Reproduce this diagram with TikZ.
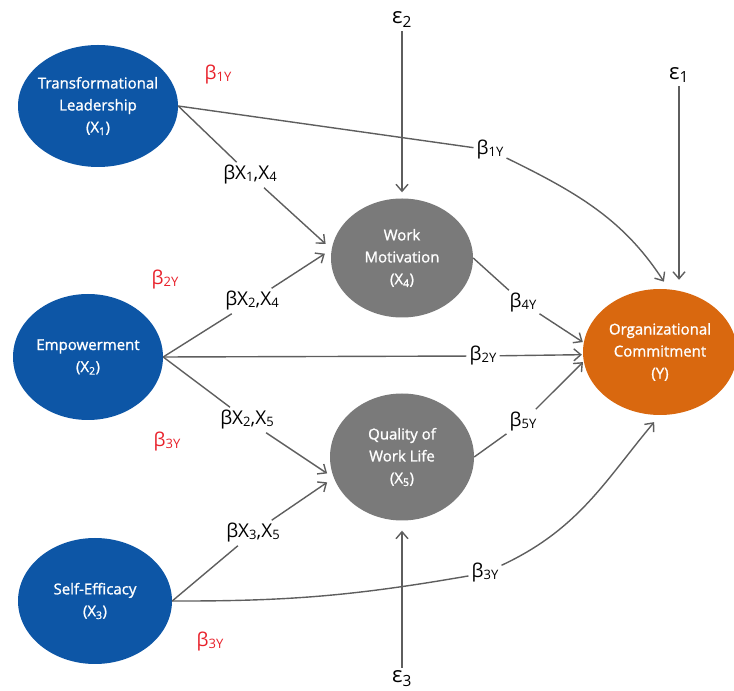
\documentclass[tikz,border=0pt]{standalone}
\usepackage{fontspec}
\setmainfont{Open Sans}
\newfontfamily\ovalfont{Open Sans}[FakeBold=1.2]
\usetikzlibrary{shapes.geometric,arrows.meta}
\definecolor{latentblue}{HTML}{0D56A6}
\definecolor{mediatorgrey}{HTML}{7A7A7A}
\definecolor{outcomeorange}{HTML}{D9680F}
\definecolor{pathred}{HTML}{E8202A}
\definecolor{linegrey}{HTML}{5E5E5E}
\newcommand{\lowtxt}[1]{\raisebox{-1.5pt}{\fontsize{13}{13}\selectfont #1}}
\begin{document}
\begin{tikzpicture}[x=1pt,y=1pt,
  latent/.style={ellipse, fill=latentblue, text=white, align=center, inner xsep=-8pt, inner ysep=0pt, font=\ovalfont\fontsize{15}{22}\selectfont},
  mediator/.style={latent, fill=mediatorgrey},
  outcome/.style={latent, fill=outcomeorange},
  coef/.style={inner sep=3pt, font=\fontsize{19}{19}\selectfont},
  coefred/.style={coef, text=pathred},
  errterm/.style={inner sep=3pt, font=\fontsize{22}{22}\selectfont},
  ln/.style={draw=linegrey, line width=1.4pt},
  arr/.style={ln, shorten >=8pt, -{Straight Barb[length=7pt,width=12pt]}}]
\useasboundingbox (0,0) rectangle (734,691);
\node[latent, minimum width=160pt, minimum height=122pt] (tl) at (98,585) {Transformational\\Leadership\\(X\textsubscript{1})};
\node[latent, minimum width=150pt, minimum height=126pt] (emp) at (88,334) {Empowerment\\(X\textsubscript{2})};
\node[latent, minimum width=154pt, minimum height=126pt] (se) at (95,90) {Self-Efficacy\\(X\textsubscript{3})};
\node[mediator, minimum width=142pt, minimum height=119pt] (wm) at (402,433) {Work\\Motivation\\(X\textsubscript{4})};
\node[mediator, minimum width=144pt, minimum height=127pt] (qwl) at (402,234) {Quality of\\Work Life\\(X\textsubscript{5})};
\node[outcome, minimum width=154pt, minimum height=126pt] (oc) at (660,339) {Organizational\\Commitment\\(Y)};
\node[errterm] (e2) at (402,671) {ε\textsubscript{2}};
\node[errterm] (e1) at (679,616) {ε\textsubscript{1}};
\node[errterm] (e3) at (402,12) {ε\textsubscript{3}};
\node[coefred] (r1) at (218,616) {β\lowtxt{1Y}};
\node[coefred] (r2) at (165,411) {β\lowtxt{2Y}};
\node[coefred] (r3a) at (167,249) {β\lowtxt{3Y}};
\node[coefred] (r3b) at (210,49) {β\lowtxt{3Y}};
\node[coef] (l14) at (250,516) {βX\lowtxt{1},X\lowtxt{4}};
\node[coef] (l24) at (252,390) {βX\lowtxt{2},X\lowtxt{4}};
\node[coef] (l25) at (247,271) {βX\lowtxt{2},X\lowtxt{5}};
\node[coef] (l35) at (253,158) {βX\lowtxt{3},X\lowtxt{5}};
\node[coef] (b1y) at (490,541) {β\lowtxt{1Y}};
\node[coef] (b2y) at (483,335) {β\lowtxt{2Y}};
\node[coef] (b4y) at (523,388) {β\lowtxt{4Y}};
\node[coef] (b5y) at (523,269) {β\lowtxt{5Y}};
\node[coef] (b3y) at (485,118) {β\lowtxt{3Y}};
\draw[ln] (tl.east) -- (l14);
\draw[arr] (l14) -- (wm.173);
\draw[ln] (emp.east) -- (l24);
\draw[arr] (l24) -- (wm.173);
\draw[ln] (emp.east) -- (l25);
\draw[arr] (l25) -- (qwl.197);
\draw[ln] (se.east) -- (l35);
\draw[arr] (l35) -- (qwl.197);
\draw[ln] (tl.east) -- (b1y);
\draw[arr, shorten >=9pt] (b1y) to[out=-26,in=123] (oc.82);
\draw[ln] (emp.east) -- (b2y);
\draw[arr, shorten >=1pt] (b2y) -- (oc.182);
\draw[ln] (wm.east) -- (b4y);
\draw[arr, shorten >=1pt] (b4y) -- (oc.173);
\draw[ln] (qwl.east) -- (b5y);
\draw[arr, shorten >=1pt] (b5y) -- (oc.187);
\draw[ln] (se.east) to[bend right=5] (b3y);
\draw[arr, shorten >=9pt] (b3y) to[out=25,in=-130] (oc.south);
\draw[arr, shorten >=6pt] (e2) -- (wm);
\draw[arr, shorten >=9pt] (e1) -- (e1 |- oc.north);
\draw[arr, shorten >=10pt] (e3) -- (qwl);
\end{tikzpicture}
\end{document}
